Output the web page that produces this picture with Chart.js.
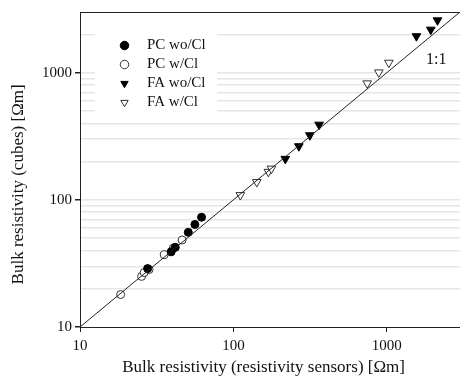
<!DOCTYPE html>
<html>
<head>
<meta charset="utf-8">
<script src="https://cdn.jsdelivr.net/npm/chart.js@4/dist/chart.umd.min.js"></script>
<style>
  html, body { margin: 0; padding: 0; background: #fff; }
  #wrap { width: 460px; height: 381px; }
</style>
</head>
<body>
<div id="wrap"><canvas id="resistChart"></canvas></div>
<script>
// Valores (Ωm)
const pcWoClX = [27.6, 39.3, 41.8, 50.8, 56.1, 62.0];
const pcWoClY = [28.8, 39.0, 42.3, 55.5, 64.0, 73.0];

const pcWClX = [18.4, 25.2, 26.2, 28.2, 35.4, 40.6, 46.3];
const pcWClY = [18.0, 25.0, 26.8, 28.3, 37.0, 41.8, 48.3];

const faWoClX = [218, 267, 315, 362, 1560, 1935, 2140];
const faWoClY = [210, 264, 322, 390, 1935, 2180, 2580];

const faWClX = [111, 142, 169, 177, 745, 887, 1031];
const faWClY = [109, 138, 166, 176, 824, 1005, 1197];

// recta 1:1
const lineX = [10, 3000];
const lineY = [10, 3000];

// ejes
const xTicks = [10, 100, 1000];
const yLabelTicks = [10, 100, 1000];
const yGrid = [10, 20, 30, 40, 50, 60, 70, 80, 90,
               100, 200, 300, 400, 500, 600, 700, 800, 900,
               1000, 2000, 3000];

const pts = (xs, ys) => xs.map((x, i) => ({ x: x, y: ys[i] }));

Chart.defaults.font.family = '"Liberation Serif", "Times New Roman", serif';
Chart.defaults.color = '#111';

const serif = { family: '"Liberation Serif", "Times New Roman", serif', size: 15 };

// fondo blanco de la leyenda + etiqueta 1:1
const extras = {
  id: 'extras',
  afterLayout(chart) {
    chart.legend.left += 33;
    chart.legend.top += 34;
  },
  beforeDatasetsDraw(chart) {
    const lg = chart.legend;
    const ctx = chart.ctx;
    ctx.save();
    ctx.fillStyle = '#fff';
    ctx.fillRect(lg.left - 18, lg.top - 20, 122, 103);
    ctx.restore();
    lg.draw();
  },
  afterDraw(chart) {
    const ctx = chart.ctx;
    ctx.save();
    ctx.font = '16px "Liberation Serif", serif';
    ctx.fillStyle = '#111';
    ctx.textAlign = 'center';
    ctx.textBaseline = 'middle';
    ctx.fillText('1:1', chart.scales.x.getPixelForValue(2100), chart.scales.y.getPixelForValue(1260));
    ctx.restore();
  }
};

const ctxR = document.getElementById('resistChart').getContext('2d');
new Chart(ctxR, {
  type: 'scatter',
  data: {
    datasets: [
      {
        label: '1:1',
        data: pts(lineX, lineY),
        showLine: true,
        pointRadius: 0,
        borderColor: '#222',
        borderWidth: 1
      },
      {
        label: 'PC wo/Cl',
        data: pts(pcWoClX, pcWoClY),
        pointStyle: 'circle',
        pointRadius: 4,
        backgroundColor: '#000',
        borderColor: '#000',
        borderWidth: 1
      },
      {
        label: 'PC w/Cl',
        data: pts(pcWClX, pcWClY),
        pointStyle: 'circle',
        pointRadius: 4,
        backgroundColor: '#fff',
        borderColor: '#333',
        borderWidth: 1
      },
      {
        label: 'FA wo/Cl',
        data: pts(faWoClX, faWoClY),
        pointStyle: 'triangle',
        rotation: 180,
        pointRadius: 5,
        backgroundColor: '#000',
        borderColor: '#000',
        borderWidth: 1
      },
      {
        label: 'FA w/Cl',
        data: pts(faWClX, faWClY),
        pointStyle: 'triangle',
        rotation: 180,
        pointRadius: 5,
        backgroundColor: '#fff',
        borderColor: '#333',
        borderWidth: 1
      }
    ]
  },
  options: {
    responsive: true,
    maintainAspectRatio: false,
    animation: false,
    layout: { autoPadding: false, padding: { top: 11, right: 0, bottom: 0, left: 0 } },
    plugins: {
      tooltip: { enabled: false },
      legend: {
        position: 'chartArea',
        align: 'start',
        labels: {
          usePointStyle: true,
          boxHeight: 6,
          padding: 4,
          font: serif,
          color: '#111',
          filter: item => item.datasetIndex > 0,
          generateLabels: chart => Chart.defaults.plugins.legend.labels.generateLabels(chart)
            .map(l => Object.assign(l, { text: '  ' + l.text }))
        }
      }
    },
    scales: {
      x: {
        type: 'logarithmic',
        min: 10,
        max: 3000,
        afterBuildTicks: s => { s.ticks = xTicks.map(v => ({ value: v })); },
        afterFit: s => { s.height = 54; s.paddingRight = 0; s.paddingLeft = 0; },
        grid: { drawOnChartArea: false, tickLength: 5, tickColor: '#222' },
        border: { color: '#222', width: 1 },
        ticks: { font: serif, color: '#111', padding: 5, maxRotation: 0, autoSkip: false,
                 callback: v => String(v) },
        title: { display: true, text: 'Bulk resistivity (resistivity sensors) [Ωm]   ',
                 font: { size: 17 }, color: '#111', padding: { top: 0, bottom: 3 } }
      },
      y: {
        type: 'logarithmic',
        min: 10,
        max: 3000,
        afterBuildTicks: s => { s.ticks = yGrid.map(v => ({ value: v })); },
        afterFit: s => { s.width = 80; },
        grid: {
          tickLength: 5,
          color: c => c.tick.value === 3000 ? '#222' : (c.tick.value === 10 ? 'rgba(0,0,0,0)' : '#e6e6e6'),
          lineWidth: c => c.tick.value === 3000 ? 1 : 1.5,
          tickColor: c => yLabelTicks.includes(c.tick.value) ? '#222' : 'rgba(0,0,0,0)'
        },
        border: { color: '#222', width: 1 },
        ticks: { font: serif, color: '#111', padding: 3, autoSkip: false,
                 callback: v => yLabelTicks.includes(v) ? String(v) : '' },
        title: { display: true, text: 'Bulk resistivity (cubes) [Ωm]       ',
                 font: { size: 17 }, color: '#111', padding: { top: 8, bottom: 0 } }
      }
    }
  },
  plugins: [extras]
});
</script>
</body>
</html>
